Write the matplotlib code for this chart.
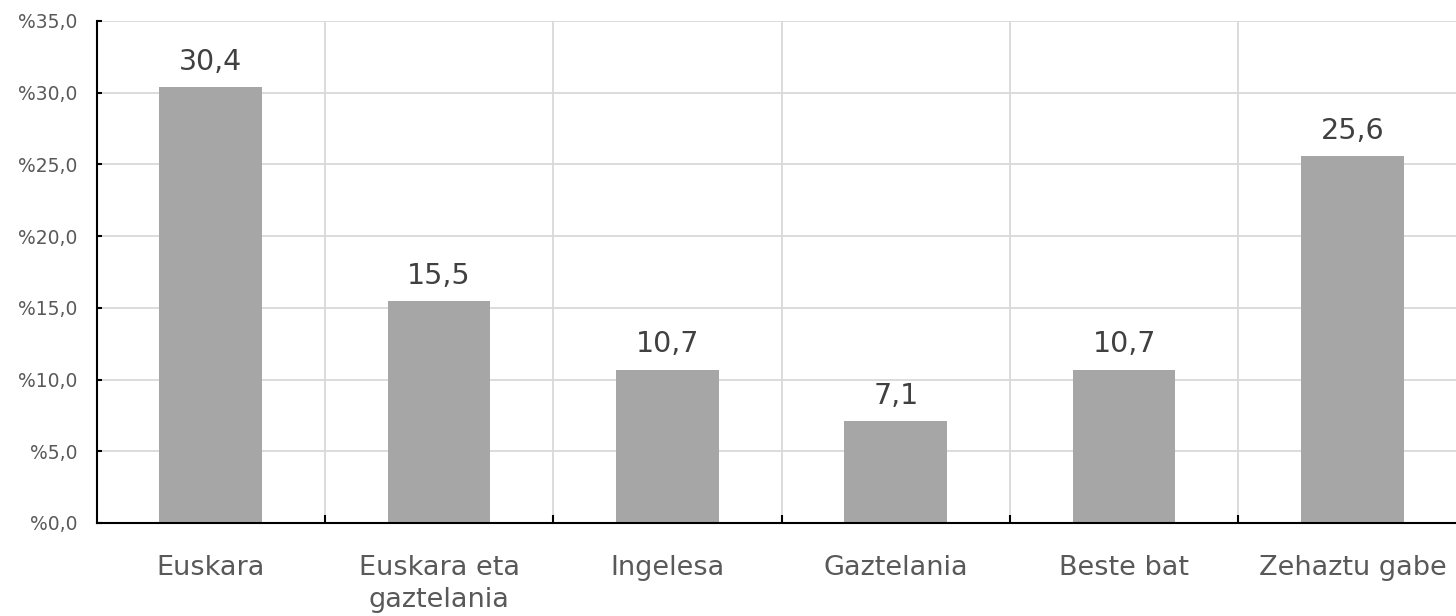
import numpy as np
import matplotlib.pyplot as plt
from matplotlib.ticker import FuncFormatter

categories = ["Euskara", "Euskara eta\ngaztelania", "Ingelesa", "Gaztelania", "Beste bat", "Zehaztu gabe"]
values = [30.4, 15.5, 10.7, 7.1, 10.7, 25.6]
y_ticks = [0, 5, 10, 15, 20, 25, 30, 35]

bar_color = "#a6a6a6"
grid_color = "#d9d9d9"

fig = plt.figure(figsize=(14.56, 6.16), dpi=100)
# axes run past the right edge, as in the reference
ax = fig.add_axes([0.0663, 0.151, 0.941, 0.815])

x = np.arange(len(categories))
ax.bar(x, values, width=0.45, color=bar_color, zorder=2)

for xi, v in zip(x, values):
    ax.annotate(f"{v:.1f}".replace(".", ","), (xi, v), xytext=(0, 8),
                textcoords="offset points", ha="center", va="bottom",
                fontsize=20.5, color="#404040")

ax.set_xlim(-0.5, len(categories) - 0.5)
ax.set_ylim(0, 35)
ax.set_yticks(y_ticks)
ax.yaxis.set_major_formatter(FuncFormatter(lambda v, p: "%" + f"{v:.1f}".replace(".", ",")))

ax.set_xticks(x)
ax.set_xticklabels(categories, linespacing=1.3)
ax.set_xticks(x[:-1] + 0.5, minor=True)

ax.tick_params(axis="x", which="major", length=0, pad=23, labelsize=19.5, labelcolor="#595959")
ax.tick_params(axis="x", which="minor", direction="in", length=6, width=1.5, color="black")
ax.tick_params(axis="y", direction="in", length=3.5, width=1.5, pad=14,
               labelsize=13.5, labelcolor="#595959")

ax.grid(axis="y", color=grid_color, linewidth=1.3, zorder=0)
ax.grid(axis="x", which="minor", color=grid_color, linewidth=1.3, zorder=0)
ax.set_axisbelow(True)

for side in ["top", "right"]:
    ax.spines[side].set_visible(False)
for side in ["left", "bottom"]:
    ax.spines[side].set_color("black")
    ax.spines[side].set_linewidth(1.5)

fig.savefig("out.png", dpi=100)
